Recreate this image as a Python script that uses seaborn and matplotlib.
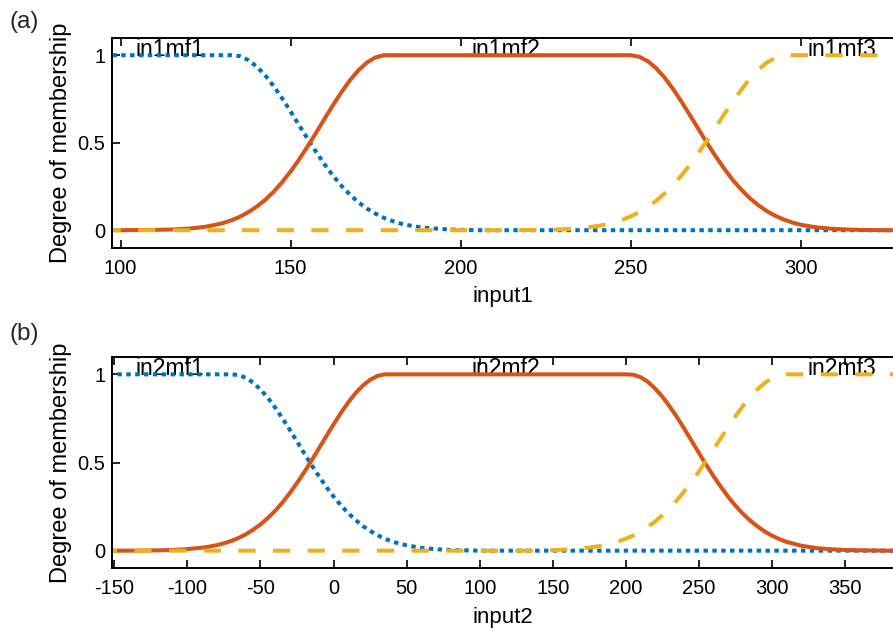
import matplotlib
matplotlib.use("Agg")
import matplotlib.pyplot as plt
import seaborn as sns
import pandas as pd

# ---------------- data ----------------
# panel (a): input1
x_in1mf1 = [95, 130, 132.5, 135, 137.5, 140, 142.5, 145, 147.5, 150, 152.5,
            155, 157.5, 160, 162.5, 165, 167.5, 170, 172.5, 175, 177.5, 180,
            182.5, 185, 187.5, 190, 195, 200, 205, 330]
y_in1mf1 = [1, 1, 1, 0.995, 0.973, 0.936, 0.886, 0.824, 0.754, 0.678, 0.600,
            0.522, 0.447, 0.376, 0.311, 0.253, 0.202, 0.159, 0.123, 0.094,
            0.070, 0.052, 0.037, 0.027, 0.019, 0.013, 0.006, 0.002, 0, 0]

x_in1mf2 = [95, 100, 105, 110, 115, 120, 122.5, 125, 127.5, 130, 132.5, 135,
            137.5, 140, 142.5, 145, 147.5, 150, 152.5, 155, 157.5, 160, 162.5,
            165, 167.5, 170, 172.5, 175, 177.5, 180, 250, 252.5, 255, 257.5,
            260, 262.5, 265, 267.5, 270, 272.5, 275, 277.5, 280, 282.5, 285,
            287.5, 290, 292.5, 295, 297.5, 300, 305, 310, 315, 320, 325, 330]
y_in1mf2 = [0, 0, 0.001, 0.002, 0.004, 0.009, 0.014, 0.020, 0.029, 0.040,
            0.056, 0.076, 0.102, 0.134, 0.173, 0.219, 0.274, 0.336, 0.404,
            0.479, 0.557, 0.637, 0.716, 0.790, 0.858, 0.915, 0.959, 0.988,
            1.0, 1, 1, 0.991, 0.966, 0.925, 0.871, 0.805, 0.732, 0.654, 0.575,
            0.496, 0.421, 0.351, 0.287, 0.232, 0.183, 0.143, 0.109, 0.082,
            0.061, 0.044, 0.031, 0.015, 0.007, 0.003, 0.001, 0, 0]

x_in1mf3 = [95, 215, 220, 225, 230, 235, 240, 242.5, 245, 247.5, 250, 252.5,
            255, 257.5, 260, 262.5, 265, 267.5, 270, 272.5, 275, 277.5, 280,
            282.5, 285, 287.5, 290, 292.5, 295, 297.5, 330]
y_in1mf3 = [0, 0, 0.001, 0.002, 0.005, 0.011, 0.023, 0.032, 0.044, 0.059,
            0.079, 0.103, 0.133, 0.168, 0.211, 0.260, 0.315, 0.377, 0.444,
            0.515, 0.589, 0.663, 0.735, 0.803, 0.865, 0.917, 0.958, 0.985,
            0.999, 1, 1]

# panel (b): input2
x_in2mf1 = [-160, -70, -65, -60, -55, -50, -45, -40, -35, -30, -25, -20, -15,
            -10, -5, 0, 5, 10, 15, 20, 25, 30, 35, 40, 45, 50, 60, 70, 80, 90,
            100, 390]
y_in2mf1 = [1, 1, 0.996, 0.980, 0.953, 0.914, 0.867, 0.812, 0.751, 0.686,
            0.619, 0.551, 0.485, 0.422, 0.362, 0.307, 0.257, 0.213, 0.174,
            0.140, 0.112, 0.088, 0.068, 0.052, 0.040, 0.030, 0.016, 0.008,
            0.004, 0.002, 0, 0]

x_in2mf2 = [-160, -150, -140, -130, -120, -110, -100, -90, -85, -80, -75, -70,
            -65, -60, -55, -50, -45, -40, -35, -30, -25, -20, -15, -10, -5, 0,
            5, 10, 15, 20, 25, 30, 35, 40, 200, 205, 210, 215, 220, 225, 230,
            235, 240, 245, 250, 255, 260, 265, 270, 275, 280, 285, 290, 295,
            300, 305, 310, 320, 330, 340, 350, 360, 370, 380, 390]
y_in2mf2 = [0, 0, 0, 0.001, 0.002, 0.004, 0.009, 0.017, 0.023, 0.031, 0.042,
            0.055, 0.072, 0.093, 0.119, 0.149, 0.185, 0.226, 0.273, 0.326,
            0.384, 0.446, 0.512, 0.580, 0.649, 0.716, 0.781, 0.840, 0.893,
            0.936, 0.969, 0.991, 1.0, 1, 1, 0.998, 0.984, 0.958, 0.920, 0.873,
            0.818, 0.757, 0.691, 0.623, 0.554, 0.487, 0.422, 0.362, 0.306,
            0.255, 0.210, 0.171, 0.138, 0.109, 0.085, 0.066, 0.050, 0.028,
            0.015, 0.008, 0.004, 0.002, 0.001, 0, 0]

x_in2mf3 = [-160, 140, 150, 160, 170, 180, 185, 190, 195, 200, 205, 210, 215,
            220, 225, 230, 235, 240, 245, 250, 255, 260, 265, 270, 275, 280,
            285, 290, 295, 300, 305, 310, 390]
y_in2mf3 = [0, 0, 0.003, 0.007, 0.013, 0.023, 0.031, 0.041, 0.053, 0.068,
            0.086, 0.108, 0.135, 0.165, 0.201, 0.241, 0.287, 0.337, 0.391,
            0.449, 0.511, 0.574, 0.638, 0.701, 0.762, 0.819, 0.870, 0.915,
            0.951, 0.978, 0.994, 1, 1]

mf_names_a = ["in1mf1", "in1mf2", "in1mf3"]
mf_label_x_a = [104.5, 203.3, 302.1]
mf_names_b = ["in2mf1", "in2mf2", "in2mf3"]
mf_label_x_b = [-135.2, 94.7, 324.5]
xticks_a = [100, 150, 200, 250, 300]
xticks_b = [-150, -100, -50, 0, 50, 100, 150, 200, 250, 300, 350]
yticks = [0, 0.5, 1]
ytick_labels = ["0", "0.5", "1"]

# ---------------- style ----------------
sns.set_theme(style="ticks")
plt.rcParams["font.family"] = ["Liberation Sans", "DejaVu Sans"]

colors = ["#0072BD", "#D95319", "#EDB120"]
lw = 2.9
styles = [(0, (1.1, 1.1)), "-", (0, (4.3, 4.3))]

W, H = 893, 632
fig = plt.figure(figsize=(W / 100, H / 100), dpi=100)

def px_axes(left, top, right, bottom):
    return [left / W, 1 - bottom / H, (right - left) / W, (bottom - top) / H]

ax_a = fig.add_axes(px_axes(112, 37.7, 893, 247.7))
ax_b = fig.add_axes(px_axes(112, 356.7, 893, 568.3))

panels = [
    (ax_a, [(x_in1mf1, y_in1mf1), (x_in1mf2, y_in1mf2), (x_in1mf3, y_in1mf3)],
     mf_names_a, mf_label_x_a, (97.5, 327.1), xticks_a, "input1"),
    (ax_b, [(x_in2mf1, y_in2mf1), (x_in2mf2, y_in2mf2), (x_in2mf3, y_in2mf3)],
     mf_names_b, mf_label_x_b, (-151.6, 382.8), xticks_b, "input2"),
]

for ax, curves, names, lab_x, xlim, xticks, xlabel in panels:
    for (xs, ys), c, ls in zip(curves, colors, styles):
        df = pd.DataFrame({"x": xs, "y": ys})
        sns.lineplot(data=df, x="x", y="y", ax=ax, color=c, linewidth=lw,
                     linestyle=ls, dash_capstyle="butt", solid_capstyle="butt",
                     solid_joinstyle="round", estimator=None, sort=False)
    for name, lx in zip(names, lab_x):
        ax.text(lx, 0.995, name, fontsize=16.5, ha="left", va="baseline",
                color="black", zorder=1)
    ax.set_xlim(*xlim)
    ax.set_ylim(-0.1, 1.1)
    ax.set_xticks(xticks)
    ax.set_xticklabels([str(t) for t in xticks])
    ax.set_yticks(yticks)
    ax.set_yticklabels(ytick_labels)
    ax.tick_params(direction="in", length=5.8, width=1.2, top=True,
                   right=False, labelsize=14.5, colors="black")
    ax.tick_params(axis="x", pad=7.8)
    ax.tick_params(axis="y", pad=4.6)
    for s in ["left", "top", "bottom"]:
        ax.spines[s].set_linewidth(1.4)
        ax.spines[s].set_color("black")
    ax.spines["right"].set_visible(False)
    ax.set_xlabel(xlabel, fontsize=16, color="black")
    ax.set_ylabel("Degree of membership", fontsize=17, color="black")
    ax.yaxis.set_label_coords(-0.051, 0.5)
    ax.xaxis.set_label_coords(0.5, -0.182)
    ax.xaxis.label.set_va("top")

fig.text(9.5 / W, 1 - 28 / H, "(a)", fontsize=17.5, ha="left", va="baseline")
fig.text(9.5 / W, 1 - 340 / H, "(b)", fontsize=17.5, ha="left", va="baseline")

fig.savefig("out.png", dpi=100)
